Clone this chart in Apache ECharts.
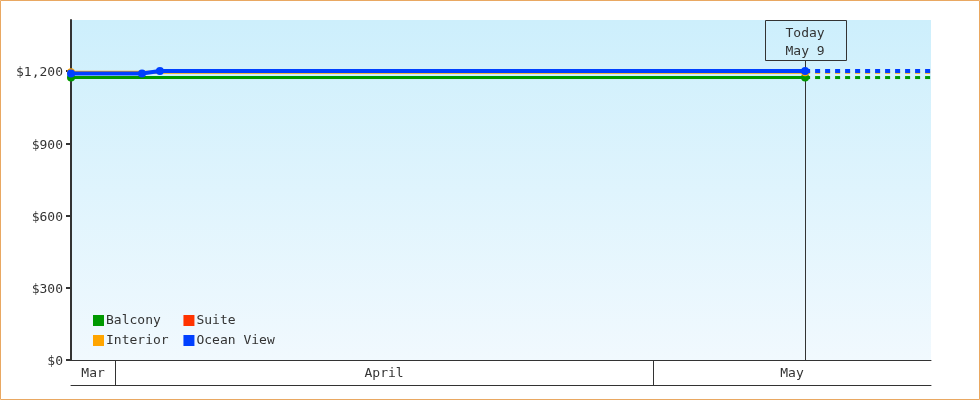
<!DOCTYPE html>
<html>
<head>
<meta charset="utf-8">
<script src="https://cdn.jsdelivr.net/npm/echarts@6/dist/echarts.min.js"></script>
<style>
html,body{margin:0;padding:0;background:#fff;}
#chart{width:980px;height:400px;}
</style>
</head>
<body>
<div id="chart"></div>
<script>
// ---- data ----
const startDate = '2024-03-29 13:00';
const todayDate = '2024-05-09 11:30';
const endDate = '2024-05-16 12:00';

const balconyDates = [startDate, todayDate];
const balconyPrices = [1173, 1173];

const interiorDates = [startDate, todayDate];
const interiorPrices = [1195, 1195];

const suiteDates = [];
const suitePrices = [];

const oceanDates = [startDate, '2024-04-02 12:00', '2024-04-03 12:00', todayDate];
const oceanPrices = [1190, 1190, 1200, 1200];

const yTicks = [0, 300, 600, 900, 1200];
const monthLabels = ['Mar', 'April', 'May'];
const monthStarts = ['2024-03-01', '2024-04-01', '2024-05-01'];
const monthEnds = ['2024-04-01', '2024-05-01', '2024-06-01'];
const todayLines = ['Today', 'May 9'];

// ---- helpers ----
const FONT = 'DejaVu Sans Mono';
const zip = (d, v) => d.map((x, i) => [x, v[i]]);
const proj = (d, v) => d.length ? [[d[d.length - 1], v[v.length - 1]], [endDate, v[v.length - 1]]] : [];

const colors = {
  'Balcony': '#009900',
  'Interior': '#ffa500',
  'Suite': '#ff3300',
  'Ocean View': '#0040ff'
};
const widths = { 'Balcony': 3, 'Interior': 3, 'Suite': 3, 'Ocean View': 4 };

function lineSeries(name, d, v, z) {
  return {
    name: name, type: 'line', data: zip(d, v), z: z,
    xAxisIndex: 0, yAxisIndex: 0,
    color: colors[name],
    symbol: 'circle', symbolSize: 8, showSymbol: true,
    lineStyle: { width: widths[name], color: colors[name] },
    itemStyle: { color: colors[name] }
  };
}
function projSeries(name, d, v, z) {
  return {
    name: name, type: 'line', data: proj(d, v), z: z,
    xAxisIndex: 0, yAxisIndex: 0,
    color: colors[name],
    symbol: 'none', showSymbol: false,
    lineStyle: { width: widths[name], type: [5, 5], color: colors[name] }
  };
}

const chart = echarts.init(document.getElementById('chart'), null, { renderer: 'canvas' });

const option = {
  animation: false,
  color: [colors['Balcony'], colors['Interior'], colors['Suite'], colors['Ocean View']],
  textStyle: { fontFamily: FONT },
  graphic: [{
    type: 'rect', silent: true, z: 100,
    shape: { x: 0.5, y: 0.5, width: 979, height: 399 },
    style: { fill: null, stroke: '#e9a862', lineWidth: 1 }
  }],
  grid: [
    {
      left: 71, right: 49, top: 20, bottom: 40, show: true, borderWidth: 0,
      backgroundColor: new echarts.graphic.LinearGradient(0, 0, 0, 1, [
        { offset: 0, color: '#cdeffc' },
        { offset: 1, color: '#f1f9fe' }
      ])
    },
    { left: 71, right: 49, top: 360, height: 25, show: false }
  ],
  legend: {
    orient: 'vertical',
    left: 93, top: 314, height: 40, padding: 0,
    itemWidth: 11, itemHeight: 11, itemGap: 7,
    icon: 'rect',
    data: ['Balcony', 'Interior', 'Suite', 'Ocean View'],
    formatter: n => n + ' ',
    textStyle: { fontFamily: FONT, fontSize: 13, color: '#333', padding: [0, 0, 0, -3] }
  },
  xAxis: [
    {
      type: 'time', gridIndex: 0, min: startDate, max: endDate,
      axisLine: { show: true, lineStyle: { color: '#333', width: 1 } },
      axisTick: { show: false }, axisLabel: { show: false }, splitLine: { show: false }
    },
    {
      type: 'time', gridIndex: 1, min: startDate, max: endDate, position: 'bottom',
      axisLine: { show: true, lineStyle: { color: '#333', width: 1 } },
      axisTick: { show: false }, axisLabel: { show: false }, splitLine: { show: false }
    }
  ],
  yAxis: [
    {
      type: 'value', gridIndex: 0, min: 0, max: 1412,
      axisLine: { show: true, lineStyle: { color: '#333', width: 2 } },
      axisTick: { show: true, length: 5, customValues: yTicks, lineStyle: { color: '#333', width: 2 } },
      axisLabel: {
        customValues: yTicks, margin: 8, fontFamily: FONT, fontSize: 13, color: '#333',
        formatter: v => '{a|$' + Number(v).toLocaleString('en-US') + '}',
        rich: { a: { fontFamily: FONT, fontSize: 13, color: '#333', padding: [4, 0, 0, 0] } }
      },
      splitLine: { show: false }
    },
    { type: 'value', gridIndex: 1, min: 0, max: 1, show: false }
  ],
  series: [
    {
      type: 'custom', name: 'today', xAxisIndex: 0, yAxisIndex: 0, z: 1, clip: false,
      silent: true,
      dimensions: [{ name: 't', type: 'time' }],
      encode: { x: 0 },
      data: [[todayDate]],
      renderItem: function (params, api) {
        const cs = params.coordSys;
        const p = api.coord([api.value(0), 0]);
        const bw = 81, bh = 40;
        return {
          type: 'group',
          children: [
            { type: 'line', shape: { x1: Math.round(p[0]) + 0.5, y1: cs.y + bh, x2: Math.round(p[0]) + 0.5, y2: p[1] },
              style: { stroke: '#333', lineWidth: 1 } },
            { type: 'rect', shape: { x: Math.round(p[0] - bw / 2) + 0.5, y: cs.y + 0.5, width: bw, height: bh },
              style: { fill: null, stroke: '#333', lineWidth: 1 } },
            { type: 'text', x: p[0], y: cs.y + bh / 2 + 3,
              style: { text: todayLines.join('\n'), fontFamily: FONT, fontSize: 13, lineHeight: 18,
                       fill: '#333', align: 'center', verticalAlign: 'middle' } }
          ]
        };
      }
    },
    {
      type: 'custom', name: 'months', xAxisIndex: 1, yAxisIndex: 1, z: 1, clip: false,
      silent: true,
      dimensions: [{ name: 's', type: 'time' }, { name: 'e', type: 'time' }],
      encode: { x: [0, 1] },
      data: monthStarts.map((s, i) => [s, monthEnds[i]]),
      renderItem: function (params, api) {
        const cs = params.coordSys;
        const s = api.coord([api.value(0), 0])[0];
        const e = api.coord([api.value(1), 0])[0];
        const x0 = Math.max(s, cs.x), x1 = Math.min(e, cs.x + cs.width);
        if (x1 <= x0) return null;
        const children = [
          { type: 'text', x: (x0 + x1) / 2, y: cs.y + cs.height / 2 + 1,
            style: { text: monthLabels[params.dataIndex], fontFamily: FONT, fontSize: 13,
                     fill: '#333', align: 'center', verticalAlign: 'middle' } }
        ];
        if (s > cs.x) {
          const xs = Math.round(s) + 0.5;
          children.push({ type: 'line', shape: { x1: xs, y1: cs.y, x2: xs, y2: cs.y + cs.height },
            style: { stroke: '#333', lineWidth: 1 } });
        }
        return { type: 'group', children: children };
      }
    },
    lineSeries('Balcony', balconyDates, balconyPrices, 2),
    projSeries('Balcony', balconyDates, balconyPrices, 2),
    lineSeries('Interior', interiorDates, interiorPrices, 3),
    projSeries('Interior', interiorDates, interiorPrices, 3),
    lineSeries('Suite', suiteDates, suitePrices, 4),
    lineSeries('Ocean View', oceanDates, oceanPrices, 5),
    projSeries('Ocean View', oceanDates, oceanPrices, 5)
  ]
};
chart.setOption(option);
</script>
</body>
</html>
